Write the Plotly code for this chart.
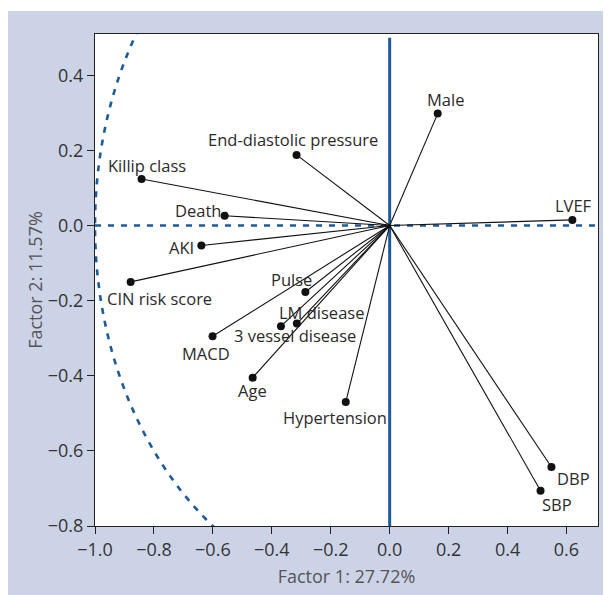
import plotly.graph_objects as go

# ---- data (factor loadings) ----
variables = ["Male", "End-diastolic pressure", "Killip class", "Death", "LVEF", "AKI",
             "CIN risk score", "Pulse", "LM disease", "3 vessel disease", "MACD", "Age",
             "Hypertension", "DBP", "SBP"]
factor1 = [0.163, -0.316, -0.842, -0.560, 0.620, -0.639, -0.879, -0.286, -0.315, -0.369,
           -0.601, -0.465, -0.149, 0.549, 0.512]
factor2 = [0.298, 0.188, 0.124, 0.026, 0.015, -0.053, -0.150, -0.177, -0.261, -0.268,
           -0.295, -0.405, -0.470, -0.643, -0.706]
x_ticks = [-1.0, -0.8, -0.6, -0.4, -0.2, 0.0, 0.2, 0.4, 0.6]
y_ticks = [-0.8, -0.6, -0.4, -0.2, 0.0, 0.2, 0.4]
x_title = "Factor 1: 27.72%"
y_title = "Factor 2: 11.57%"

# label offsets in pixels (dx right, dy up)
label_offsets = {
    "Male": (8, 14), "End-diastolic pressure": (-4, 15), "Killip class": (5, 13),
    "Death": (-27, 5), "LVEF": (1, 14), "AKI": (-20, -2), "CIN risk score": (29, -17),
    "Pulse": (-14, 13), "LM disease": (25, 11), "3 vessel disease": (14, -9),
    "MACD": (-7, -17), "Age": (0, -13), "Hypertension": (-11, -15),
    "DBP": (22, -11), "SBP": (16, -14),
}

BLUE = "#1D5A98"
BG = "#CDD3E7"
FONT = "Open Sans"
W, H = 603, 587
ML, MR, MT, MB = 87, 12, 26, 67
XR = [-1.0, 0.707]
YR = [-0.8, 0.51]

fig = go.Figure()

# vectors from origin
lx, ly = [], []
for a, b in zip(factor1, factor2):
    lx += [0, a, None]
    ly += [0, b, None]
fig.add_trace(go.Scatter(x=lx, y=ly, mode="lines", line=dict(color="#111", width=1.1),
                         hoverinfo="skip", showlegend=False))
fig.add_trace(go.Scatter(x=factor1, y=factor2, mode="markers", text=variables,
                         marker=dict(color="#111", size=8), showlegend=False))

for name, a, b in zip(variables, factor1, factor2):
    dx, dy = label_offsets[name]
    fig.add_annotation(x=a, y=b, text=name, showarrow=False, xshift=dx, yshift=dy,
                       font=dict(family=FONT, size=16.5, color="#2a2a2a"))

# left half of the unit circle (two quarter-circle Bezier arcs)
k = 0.5523
arc = (f"M 0,1 C {-k},1 -1,{k} -1,0 "
       f"C -1,{-k} {-k},-1 0,-1")
dash_line = dict(color=BLUE, width=2.6, dash="6px,7px")
fig.add_shape(type="path", xref="x", yref="y", path=arc, line=dash_line, layer="below")
fig.add_shape(type="line", xref="x", yref="y", x0=XR[0], x1=XR[1], y0=0, y1=0,
              line=dash_line, layer="below")
fig.add_shape(type="line", xref="x", yref="y", x0=0, x1=0, y0=YR[0], y1=0.50,
              line=dict(color=BLUE, width=3), layer="below")

# thin white strip at the top
pw = W - ML - MR
ph = H - MT - MB
def px_to_paper_x(p):
    return (p - ML) / pw
def py_to_paper_y(p):
    return (H - MB - p) / ph
fig.add_shape(type="rect", xref="paper", yref="paper", x0=px_to_paper_x(-2), x1=px_to_paper_x(W + 2),
              y0=py_to_paper_y(3), y1=py_to_paper_y(-2), fillcolor="white", line=dict(width=0))

axis_common = dict(showgrid=False, zeroline=False, showline=True, mirror=True,
                   linecolor="#222", linewidth=1.2, ticks="outside", ticklen=7,
                   tickcolor="#222", tickwidth=1.2, tickformat=".1f",
                   tickfont=dict(family=FONT, size=18, color="#333"))

fig.update_layout(
    width=W, height=H,
    margin=dict(l=ML, r=MR, t=MT, b=MB, pad=0),
    paper_bgcolor=BG, plot_bgcolor="white",
    xaxis=dict(range=XR, tickvals=x_ticks, title=dict(text=x_title, standoff=10,
               font=dict(family=FONT, size=18, color="#555")), **axis_common),
    yaxis=dict(range=YR, tickvals=y_ticks, title=dict(text=y_title, standoff=0,
               font=dict(family=FONT, size=18, color="#555")), **axis_common),
    font=dict(family=FONT),
)

fig.write_html("out.html")
